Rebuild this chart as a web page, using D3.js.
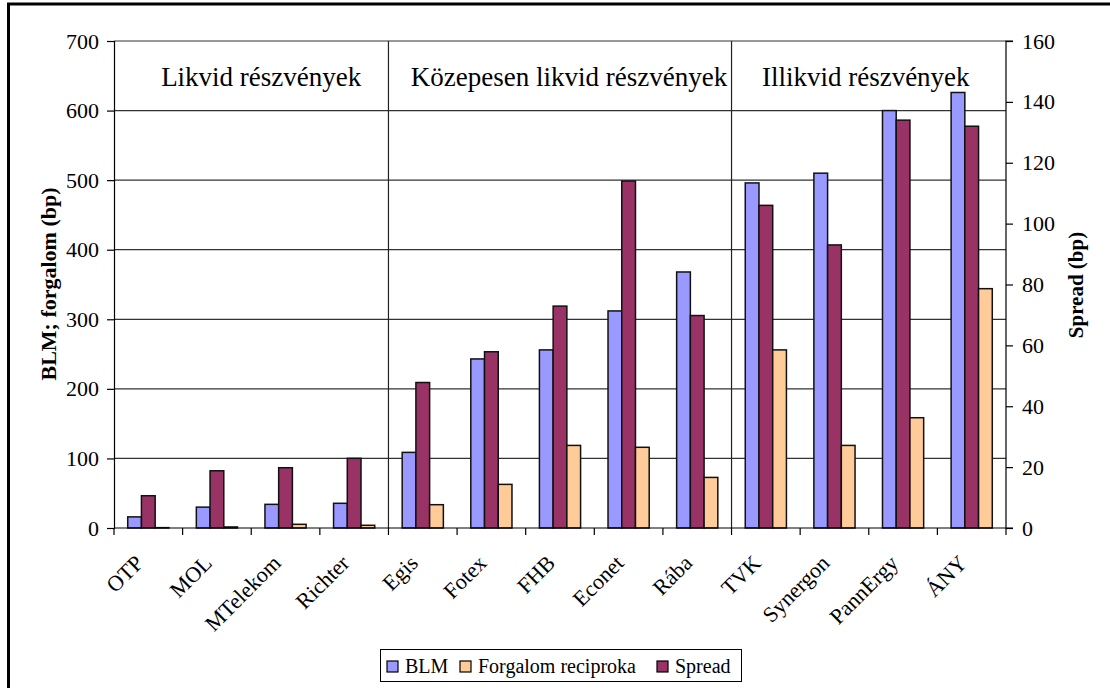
<!DOCTYPE html>
<html><head><meta charset="utf-8">
<script src="https://cdn.jsdelivr.net/npm/d3@7"></script>
<style>
html,body{margin:0;padding:0;background:#fff;}
svg text{font-family:"Liberation Serif","Times New Roman",serif;fill:#000;}
</style></head>
<body><svg id="c" width="1110" height="688"></svg>
<script>
const categories = ["OTP","MOL","MTelekom","Richter","Egis","Fotex","FHB","Econet","Rába","TVK","Synergon","PannErgy","ÁNY"];
const blm = [16,30,34,35.5,108.7,243,256,312,368,496,510,600,626];
const forgalom = [0.5,1.5,5.3,3.9,33.5,62.7,118.7,116,72.7,256,118.7,158.5,344];
const spread = [10.6,18.8,19.8,22.9,47.8,57.9,72.9,114,69.8,106,93,134,132];
const leftTicks = [0,100,200,300,400,500,600,700];
const rightTicks = [0,20,40,60,80,100,120,140,160];
const groups = [
  {label:"Likvid részvények", from:0, to:3},
  {label:"Közepesen likvid részvények", from:4, to:8},
  {label:"Illikvid részvények", from:9, to:12}
];
const seriesNames = ["BLM","Forgalom reciproka","Spread"];
const colors = {"BLM":"#9999FF","Forgalom reciproka":"#FFCC99","Spread":"#993366"};

const svg = d3.select("#c");
const L=114, R=1006, T=41, B=528;
const FF = "'Liberation Serif','Times New Roman',serif";

// outer border
svg.append("rect").attr("x",8.5).attr("y",4).attr("width",1200).attr("height",800)
  .attr("fill","none").attr("stroke","#000").attr("stroke-width",3);

const x = d3.scaleBand().domain(categories).range([L,R]).paddingInner(0.4).paddingOuter(0.2);
const order = ["BLM","Spread","Forgalom reciproka"];
const xs = d3.scaleBand().domain(order).range([0,x.bandwidth()]);
const yL = d3.scaleLinear().domain([0,700]).range([B,T]);
const yR = d3.scaleLinear().domain([0,160]).range([B,T]);

// gridlines
svg.append("g").selectAll("line").data(leftTicks.filter(d=>d>0)).join("line")
  .attr("x1",L).attr("x2",R).attr("y1",d=>yL(d)).attr("y2",d=>yL(d))
  .attr("stroke","#333").attr("stroke-width",1.2);

// group separators
const half = (x.step()-x.bandwidth())/2;
const boundary = i => x(categories[i]) - half;
[4,9].forEach(i=>{
  svg.append("line").attr("x1",boundary(i)).attr("x2",boundary(i)).attr("y1",T).attr("y2",B)
    .attr("stroke","#222").attr("stroke-width",1.2);
});

// bars
const rows = categories.map((c,i)=>({c, BLM:blm[i], "Forgalom reciproka":forgalom[i], Spread:spread[i]}));
const g = svg.append("g");
rows.forEach(r=>{
  order.forEach(s=>{
    const sc = s==="Spread" ? yR : yL;
    g.append("rect").attr("x",x(r.c)+xs(s)).attr("width",xs.bandwidth())
      .attr("y",sc(r[s])).attr("height",B-sc(r[s]))
      .attr("fill",colors[s]).attr("stroke","#111").attr("stroke-width",1.5);
  });
});

// axes
const axL = d3.axisLeft(yL).tickValues(leftTicks).tickSize(7).tickPadding(8);
const gL = svg.append("g").attr("transform",`translate(${L},0)`).call(axL);
const axR = d3.axisRight(yR).tickValues(rightTicks).tickSize(7).tickPadding(9);
const gR = svg.append("g").attr("transform",`translate(${R},0)`).call(axR);
[gL,gR].forEach(gg=>{
  gg.attr("font-family",FF);
  gg.select(".domain").attr("stroke","#000").attr("stroke-width",1.2);
  gg.selectAll(".tick line").attr("stroke","#000").attr("stroke-width",1.2);
  gg.selectAll(".tick text").attr("font-size",22).style("font-family",FF);
});
gR.select(".domain").attr("d",`M7,${B}H0V${T}H7`);

// x axis
svg.append("line").attr("x1",L).attr("x2",R).attr("y1",B).attr("y2",B).attr("stroke","#000").attr("stroke-width",1.2);
const bounds = d3.range(categories.length+1).map(i=> i<categories.length ? boundary(i) : R);
svg.append("g").selectAll("line").data(bounds).join("line")
  .attr("x1",d=>d).attr("x2",d=>d).attr("y1",B).attr("y2",B+7).attr("stroke","#000").attr("stroke-width",1.2);

svg.append("g").selectAll("text").data(categories).join("text")
  .attr("transform",d=>`translate(${x(d)+x.bandwidth()/2-9},${B+31}) rotate(-45)`)
  .attr("text-anchor","end").attr("dy","0.35em").attr("font-size",22).style("font-family",FF).text(d=>d);

// group labels
const groupDx = [10,9,-3];
groups.forEach((gr,i)=>{
  const cx = (boundary(gr.from) + (gr.to+1<categories.length ? boundary(gr.to+1) : R))/2;
  svg.append("text").attr("x",cx+groupDx[i]).attr("y",86).attr("text-anchor","middle").attr("font-size",27)
    .style("font-family",FF).text(gr.label);
});

// axis titles
svg.append("text").attr("transform","translate(56,284) rotate(-90)").attr("text-anchor","middle")
  .attr("font-size",22).attr("font-weight","bold").style("font-family",FF).text("BLM; forgalom (bp)");
svg.append("text").attr("transform","translate(1083,285) rotate(-90)").attr("text-anchor","middle")
  .attr("font-size",21).attr("font-weight","bold").style("font-family",FF).text("Spread (bp)");

// legend
const lg = svg.append("g");
lg.append("rect").attr("x",380.5).attr("y",649.5).attr("width",361).attr("height",32).attr("fill","#fff").attr("stroke","#000").attr("stroke-width",1);
const legendItems = [{s:"BLM",sx:387,tx:405},{s:"Forgalom reciproka",sx:460,tx:478},{s:"Spread",sx:657,tx:675}];
legendItems.forEach(it=>{
  lg.append("rect").attr("x",it.sx).attr("y",661).attr("width",11).attr("height",11)
    .attr("fill",colors[it.s]).attr("stroke","#000").attr("stroke-width",1.2);
  lg.append("text").attr("x",it.tx).attr("y",673).attr("font-size",20).style("font-family",FF).text(it.s);
});
</script></body></html>
